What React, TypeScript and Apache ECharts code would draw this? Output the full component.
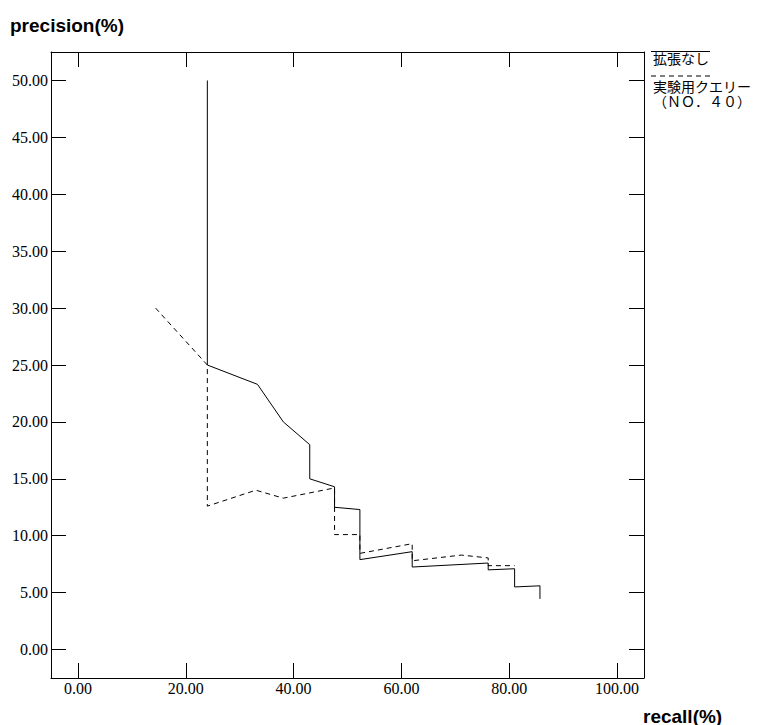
import React, { useEffect, useRef } from "react";
import * as echarts from "echarts";

// Recall / precision curves (both in %)
const seriesNames = ["拡張なし", "実験用クエリー"];
const seriesSubtitle = "（ＮＯ．４０）";

const recallNoExpansion = [24.0, 24.0, 33.3, 38.1, 43.0, 43.0, 47.6, 47.6, 52.3, 52.3, 62.0, 62.0, 76.1, 76.1, 81.0, 81.0, 85.7, 85.7];
const precisionNoExpansion = [50.0, 25.0, 23.3, 20.0, 18.0, 15.0, 14.3, 12.5, 12.3, 7.9, 8.6, 7.25, 7.6, 7.0, 7.1, 5.5, 5.6, 4.45];

const recallTestQuery = [14.4, 24.0, 24.0, 33.0, 38.1, 47.6, 47.6, 52.3, 52.3, 62.0, 62.0, 71.1, 76.1, 76.1, 81.0];
const precisionTestQuery = [30.0, 25.0, 12.6, 14.0, 13.3, 14.2, 10.1, 10.1, 8.45, 9.3, 7.8, 8.3, 8.05, 7.37, 7.37];

const xTicks = [0, 20, 40, 60, 80, 100];
const yTicks = [0, 5, 10, 15, 20, 25, 30, 35, 40, 45, 50];

const xTitle = "recall(%)";
const yTitle = "precision(%)";

const pairs = (xs: number[], ys: number[]) => xs.map((x, i) => [x, ys[i]]);

const labelStyle = {
  fontFamily: "Liberation Serif",
  fontSize: 16,
  color: "#000",
  formatter: (v: number) => v.toFixed(2),
};

const legendFont = "14px 'Noto Sans CJK JP'";
const titleFont = "bold 19px 'Liberation Sans'";

export default function App() {
  const ref = useRef<HTMLDivElement>(null);

  useEffect(() => {
    if (!ref.current) return;
    const chart = echarts.init(ref.current, null, { renderer: "svg" });

    const tick = (values: number[]) => ({
      show: true,
      inside: true,
      length: 15,
      customValues: values,
      lineStyle: { color: "#000", width: 1 },
    });
    const line = { show: true, onZero: false, lineStyle: { color: "#000", width: 1 } };

    const legendText = (text: string, y: number) => ({
      type: "text",
      x: 653,
      y,
      style: {
        text,
        font: legendFont,
        lineHeight: 15,
        fill: "#000",
        verticalAlign: "middle",
      },
    });

    chart.setOption({
      animation: false,
      backgroundColor: "#fff",
      grid: { left: 51, right: 113, top: 52, bottom: 47 },
      xAxis: [
        {
          type: "value",
          min: -5,
          max: 105,
          position: "bottom",
          axisLine: line,
          axisTick: tick(xTicks),
          axisLabel: { ...labelStyle, margin: 2, customValues: xTicks },
          splitLine: { show: false },
        },
        {
          type: "value",
          min: -5,
          max: 105,
          position: "top",
          axisLine: line,
          axisTick: tick(xTicks),
          axisLabel: { show: false },
          splitLine: { show: false },
        },
      ],
      yAxis: [
        {
          type: "value",
          min: -2.5,
          max: 52.5,
          position: "left",
          axisLine: line,
          axisTick: tick(yTicks),
          axisLabel: { ...labelStyle, margin: 3, customValues: yTicks },
          splitLine: { show: false },
        },
        {
          type: "value",
          min: -2.5,
          max: 52.5,
          position: "right",
          axisLine: line,
          axisTick: tick(yTicks),
          axisLabel: { show: false },
          splitLine: { show: false },
        },
      ],
      series: [
        {
          name: seriesNames[0],
          type: "line",
          data: pairs(recallNoExpansion, precisionNoExpansion),
          showSymbol: false,
          symbol: "none",
          lineStyle: { color: "#000", width: 1, type: "solid" },
        },
        {
          name: seriesNames[1],
          type: "line",
          data: pairs(recallTestQuery, precisionTestQuery),
          showSymbol: false,
          symbol: "none",
          lineStyle: { color: "#000", width: 1, type: [5, 4] },
        },
      ],
      graphic: [
        {
          type: "text",
          x: 10,
          y: 25,
          style: { text: yTitle, font: titleFont, fill: "#000", verticalAlign: "middle" },
        },
        {
          type: "text",
          x: 643,
          y: 716,
          style: { text: xTitle, font: titleFont, fill: "#000", verticalAlign: "middle" },
        },
        {
          type: "line",
          shape: { x1: 651, y1: 51.5, x2: 710, y2: 51.5 },
          style: { stroke: "#000", lineWidth: 1 },
        },
        legendText(seriesNames[0], 58),
        {
          type: "line",
          shape: { x1: 651, y1: 76, x2: 710, y2: 76 },
          style: { stroke: "#000", lineWidth: 1, lineDash: [5, 4] },
        },
        legendText(seriesNames[1] + "\n" + seriesSubtitle, 93.5),
      ],
    });

    return () => chart.dispose();
  }, []);

  return (
    <div
      ref={ref}
      style={{ position: "fixed", left: 0, top: 0, width: 757, height: 725 }}
    />
  );
}
